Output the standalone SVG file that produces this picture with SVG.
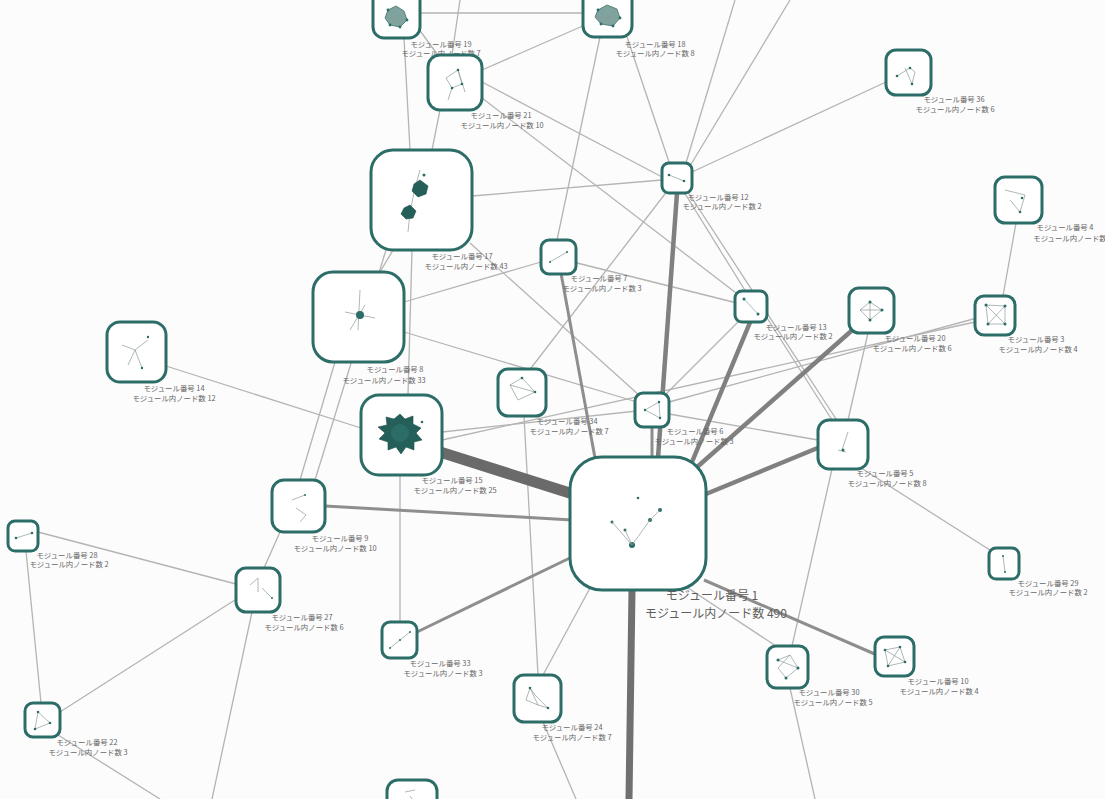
<svg xmlns="http://www.w3.org/2000/svg" width="1105" height="799" viewBox="0 0 1105 799">
<style>
.bg{fill:#fcfcfc}
.n rect.b{fill:#fff;stroke:#2c6d67;stroke-width:3}
.n circle{fill:#2c6d67}
.n path{stroke:#8a9a98;stroke-width:0.7;fill:none}
.n polygon{fill:#245f59;stroke:#1d4f4a;stroke-width:0.6}
.n polygon.m{fill:#7fa39f;stroke:#3f6f6a;stroke-width:0.8}
.l{font-family:"Noto Sans CJK JP","Noto Sans",sans-serif;font-size:7.4px;fill:#666;text-anchor:middle}
.L{font-family:"Noto Sans CJK JP","Noto Sans",sans-serif;font-size:12px;fill:#5f5f5f;text-anchor:middle}
.e1{stroke:#b4b4b4;stroke-width:1.3;fill:none}
.e2{stroke:#8e8e8e;stroke-width:3;fill:none}
.e3{stroke:#808080;stroke-width:4.5;fill:none}
.e4{stroke:#707070;stroke-width:7;fill:none}
.e5{stroke:#6a6a6a;stroke-width:11;fill:none}
</style>
<rect class="bg" x="0" y="0" width="1105" height="799"/>
<g id="edges">
<path class="e1" d="M420 13H583"/>
<path class="e1" d="M404 38L410 150"/>
<path class="e1" d="M418 28L440 58"/>
<path class="e1" d="M460 0L452 55"/>
<path class="e1" d="M585 25L482 70"/>
<path class="e1" d="M627 37L670 165"/>
<path class="e1" d="M600 37L557 240"/>
<path class="e1" d="M440 110L432 150"/>
<path class="e1" d="M482 82L664 178"/>
<path class="e1" d="M482 98L740 296"/>
<path class="e1" d="M472 196L662 180"/>
<path class="e1" d="M692 172L886 82"/>
<path class="e1" d="M686 163L735 0"/>
<path class="e1" d="M690 166L790 0"/>
<path class="e1" d="M684 192L746 292"/>
<path class="e1" d="M688 192L838 422"/>
<path class="e1" d="M668 190L528 372"/>
<path class="e1" d="M404 302L541 262"/>
<path class="e1" d="M470 243L640 396"/>
<path class="e1" d="M573 262L737 303"/>
<path class="e1" d="M412 250L408 395"/>
<path class="e1" d="M393 250L380 272"/>
<path class="e1" d="M404 332L637 402"/>
<path class="e1" d="M166 366L361 428"/>
<path class="e1" d="M442 432L637 411"/>
<path class="e1" d="M400 475L400 622"/>
<path class="e1" d="M524 416L538 675"/>
<path class="e1" d="M669 402L977 318"/>
<path class="e1" d="M669 414L818 440"/>
<path class="e1" d="M767 318L832 420"/>
<path class="e1" d="M665 395L740 320"/>
<path class="e1" d="M868 333L848 420"/>
<path class="e1" d="M1003 296L1016 223"/>
<path class="e1" d="M975 322L442 440"/>
<path class="e1" d="M590 588L543 675"/>
<path class="e1" d="M688 588L782 650"/>
<path class="e1" d="M832 469L792 646"/>
<path class="e1" d="M858 466L993 552"/>
<path class="e1" d="M790 688L815 799"/>
<path class="e1" d="M543 722L576 799"/>
<path class="e1" d="M300 480L335 362"/>
<path class="e1" d="M315 480L386 250"/>
<path class="e1" d="M280 532L264 568"/>
<path class="e1" d="M236 584L38 532"/>
<path class="e1" d="M238 598L60 712"/>
<path class="e1" d="M252 612L212 799"/>
<path class="e1" d="M26 551L41 703"/>
<path class="e1" d="M58 735L160 799"/>
<path class="e2" d="M558 257L595 458"/>
<path class="e2" d="M652 427L652 458"/>
<path class="e2" d="M325 506L572 520"/>
<path class="e2" d="M417 632L574 556"/>
<path class="e2" d="M704 580L877 655"/>
<path class="e3" d="M677 193L658 458"/>
<path class="e3" d="M692 462L751 320"/>
<path class="e3" d="M706 494L820 447"/>
<path class="e3" d="M696 468L866 318"/>
<path class="e4" d="M632 590L629 799"/>
<path class="e5" d="M440 452L576 495"/>
</g>
<g id="n19" class="n"><rect class="b" x="373" y="-12" width="47" height="50" rx="11"/><polygon class="m" points="388,10 396,6 404,11 407,20 400,27 390,25 385,18"/><path d="M388 10L400 27M404 11L390 25M385 18L407 20"/><circle cx="388" cy="10" r="1.4"/><circle cx="407" cy="20" r="1.4"/><circle cx="390" cy="25" r="1.4"/><circle cx="400" cy="27" r="1.4"/><text class="l" x="441" y="47">モジュール番号 19</text><text class="l" x="441" y="56">モジュール内ノード数 7</text></g>
<g id="n18" class="n"><rect class="b" x="583" y="-12" width="49" height="49" rx="11"/><polygon class="m" points="598,10 607,5 617,9 620,18 613,26 601,24 595,17"/><path d="M598 10L613 26M617 9L601 24M595 17L620 18"/><circle cx="598" cy="10" r="1.4"/><circle cx="620" cy="18" r="1.4"/><circle cx="601" cy="24" r="1.4"/><circle cx="613" cy="26" r="1.4"/><text class="l" x="655" y="47">モジュール番号 18</text><text class="l" x="655" y="56">モジュール内ノード数 8</text></g>
<g id="n21" class="n"><rect class="b" x="428" y="55" width="54" height="55" rx="12"/><path d="M446 78L458 70L462 84L452 88L446 78M458 70L465 92M452 88L448 100"/><circle cx="458" cy="70" r="1.3"/><circle cx="452" cy="88" r="1.3"/><circle cx="462" cy="84" r="1.3"/><text class="l" x="501" y="118">モジュール番号 21</text><text class="l" x="502" y="128">モジュール内ノード数 10</text></g>
<g id="n36" class="n"><rect class="b" x="886" y="50" width="45" height="45" rx="10"/><path d="M897 76L910 68L915 72L912 84L905 68"/><circle cx="897" cy="76" r="1.3"/><circle cx="910" cy="68" r="1.3"/><circle cx="912" cy="84" r="1.3"/><text class="l" x="954" y="102">モジュール番号 36</text><text class="l" x="955" y="112">モジュール内ノード数 6</text></g>
<g id="n12" class="n"><rect class="b" x="662" y="163" width="30" height="30" rx="7"/><path d="M669 175L684 181"/><circle cx="669" cy="175" r="1.3"/><circle cx="684" cy="181" r="1.3"/><text class="l" x="718" y="200">モジュール番号 12</text><text class="l" x="722" y="209">モジュール内ノード数 2</text></g>
<g id="n17" class="n"><rect class="b" x="371" y="150" width="101" height="100" rx="22"/><path d="M420 170L415 188L410 212L408 232"/><polygon points="414,184 420,180 428,186 426,194 418,197 412,191"/><polygon points="404,208 410,205 416,211 413,218 406,219 401,214"/><circle cx="424" cy="175" r="1.5"/><text class="l" x="462" y="259">モジュール番号 17</text><text class="l" x="466" y="269">モジュール内ノード数 43</text></g>
<g id="n4" class="n"><rect class="b" x="995" y="177" width="47" height="46" rx="10"/><path d="M1005 190L1025 195L1020 212L1010 200"/><circle cx="1022" cy="198" r="1.3"/><circle cx="1020" cy="212" r="1.3"/><text class="l" x="1065" y="230">モジュール番号 4</text><text class="l" x="1070" y="241">モジュール内ノード数</text></g>
<g id="n7" class="n"><rect class="b" x="541" y="240" width="35" height="34" rx="8"/><path d="M550 262L567 252"/><circle cx="550" cy="262" r="1"/><circle cx="567" cy="252" r="1"/><text class="l" x="599" y="281">モジュール番号 7</text><text class="l" x="602" y="291">モジュール内ノード数 3</text></g>
<g id="n8" class="n"><rect class="b" x="313" y="272" width="91" height="90" rx="20"/><path d="M360 290L358 330M345 312L375 318M350 330L365 305"/><circle cx="360" cy="315" r="4"/><text class="l" x="395" y="372">モジュール番号 8</text><text class="l" x="384" y="383">モジュール内ノード数 33</text></g>
<g id="n13" class="n"><rect class="b" x="735" y="291" width="32" height="31" rx="7"/><path d="M744 299L758 314"/><circle cx="744" cy="299" r="1.5"/><circle cx="758" cy="314" r="1.5"/><text class="l" x="796" y="330">モジュール番号 13</text><text class="l" x="793" y="339">モジュール内ノード数 2</text></g>
<g id="n20" class="n"><rect class="b" x="849" y="288" width="45" height="45" rx="10"/><path d="M860 310L870 302L882 310L870 320L860 310M870 302L870 320M860 310L882 310"/><circle cx="870" cy="302" r="1.5"/><circle cx="882" cy="310" r="1.5"/><circle cx="870" cy="320" r="1.5"/><text class="l" x="915" y="341">モジュール番号 20</text><text class="l" x="912" y="351">モジュール内ノード数 6</text></g>
<g id="n3" class="n"><rect class="b" x="975" y="296" width="40" height="39" rx="9"/><path d="M986 305L1005 306L1005 324L988 324L986 305L1005 324M1005 306L988 324"/><circle cx="986" cy="305" r="1.5"/><circle cx="1005" cy="306" r="1.5"/><circle cx="1005" cy="324" r="1.5"/><circle cx="988" cy="324" r="1.5"/><text class="l" x="1036" y="342">モジュール番号 3</text><text class="l" x="1038" y="352">モジュール内ノード数 4</text></g>
<g id="n14" class="n"><rect class="b" x="107" y="322" width="59" height="60" rx="13"/><path d="M122 345L135 350L148 340M135 350L128 365M135 350L142 368"/><circle cx="148" cy="337" r="1.2"/><circle cx="142" cy="368" r="1.2"/><text class="l" x="174" y="391">モジュール番号 14</text><text class="l" x="174" y="401">モジュール内ノード数 12</text></g>
<g id="n34" class="n"><rect class="b" x="498" y="369" width="48" height="47" rx="10"/><path d="M510 385L522 378L535 392L518 400L510 385L535 392"/><circle cx="522" cy="378" r="1.3"/><circle cx="535" cy="392" r="1.3"/><text class="l" x="567" y="424">モジュール番号 34</text><text class="l" x="569" y="434">モジュール内ノード数 7</text></g>
<g id="n6" class="n"><rect class="b" x="635" y="393" width="34" height="34" rx="8"/><path d="M645 410L659 402L660 418L645 410"/><circle cx="645" cy="410" r="1.2"/><circle cx="659" cy="402" r="1.2"/><circle cx="660" cy="418" r="1.2"/><text class="l" x="695" y="434">モジュール番号 6</text><text class="l" x="694" y="444">モジュール内ノード数 3</text></g>
<g id="n15" class="n"><rect class="b" x="361" y="395" width="81" height="80" rx="18"/><polygon points="400,414 405,419 413,416 413,424 421,428 416,433 422,440 414,442 414,450 406,447 401,454 396,447 388,450 388,442 379,439 385,433 378,427 387,425 386,417 394,419"/><circle cx="400" cy="433" r="9" fill="#1a4a46"/><circle cx="422" cy="422" r="1.3"/><text class="l" x="452" y="483">モジュール番号 15</text><text class="l" x="455" y="493">モジュール内ノード数 25</text></g>
<g id="n5" class="n"><rect class="b" x="818" y="420" width="50" height="49" rx="11"/><path d="M848 432L842 450M838 450L846 452"/><circle cx="843" cy="450" r="1.5"/><text class="l" x="885" y="476">モジュール番号 5</text><text class="l" x="887" y="486">モジュール内ノード数 8</text></g>
<g id="n1" class="n"><rect class="b" x="570" y="457" width="136" height="133" rx="32"/><circle cx="632" cy="545" r="3"/><circle cx="625" cy="530" r="1.5"/><circle cx="650" cy="520" r="2"/><circle cx="660" cy="510" r="2"/><circle cx="612" cy="522" r="1.5"/><circle cx="638" cy="498" r="1.3"/><path d="M612 522L632 545L650 520L660 510M625 530L632 545"/><text class="L" x="712" y="600">モジュール番号 1</text><text class="L" x="716" y="618">モジュール内ノード数 490</text></g>
<g id="n9" class="n"><rect class="b" x="272" y="480" width="53" height="52" rx="12"/><path d="M292 500L305 495M296 508L306 515L300 522"/><circle cx="305" cy="495" r="1"/><text class="l" x="340" y="541">モジュール番号 9</text><text class="l" x="335" y="551">モジュール内ノード数 10</text></g>
<g id="n28" class="n"><rect class="b" x="8" y="521" width="30" height="30" rx="7"/><path d="M16 538L32 533"/><circle cx="16" cy="538" r="1.3"/><circle cx="32" cy="533" r="1.3"/><text class="l" x="67" y="558">モジュール番号 28</text><text class="l" x="69" y="567">モジュール内ノード数 2</text></g>
<g id="n27" class="n"><rect class="b" x="236" y="568" width="44" height="44" rx="10"/><path d="M250 585L258 578L258 592M262 588L272 598"/><circle cx="272" cy="598" r="1"/><text class="l" x="302" y="620">モジュール番号 27</text><text class="l" x="304" y="630">モジュール内ノード数 6</text></g>
<g id="n29" class="n"><rect class="b" x="989" y="548" width="30" height="31" rx="7"/><path d="M1003 556L1005 572"/><circle cx="1003" cy="556" r="1"/><circle cx="1005" cy="572" r="1"/><text class="l" x="1048" y="586">モジュール番号 29</text><text class="l" x="1048" y="595">モジュール内ノード数 2</text></g>
<g id="n33" class="n"><rect class="b" x="382" y="622" width="35" height="36" rx="8"/><path d="M390 648L410 632"/><circle cx="390" cy="648" r="1"/><circle cx="400" cy="640" r="1"/><circle cx="410" cy="632" r="1"/><text class="l" x="440" y="666">モジュール番号 33</text><text class="l" x="443" y="676">モジュール内ノード数 3</text></g>
<g id="n10" class="n"><rect class="b" x="875" y="637" width="39" height="39" rx="9"/><path d="M885 650L900 647L905 662L888 666L885 650L905 662M900 647L888 666"/><circle cx="885" cy="650" r="1.3"/><circle cx="900" cy="647" r="1.3"/><circle cx="905" cy="662" r="1.3"/><circle cx="888" cy="666" r="1.3"/><text class="l" x="938" y="684">モジュール番号 10</text><text class="l" x="939" y="694">モジュール内ノード数 4</text></g>
<g id="n30" class="n"><rect class="b" x="767" y="646" width="41" height="42" rx="9"/><path d="M778 660L790 655L798 668L786 678L778 668L790 655M778 660L798 668" stroke="#7b7fbf"/><circle cx="778" cy="660" r="1.5"/><circle cx="798" cy="668" r="1.5"/><circle cx="786" cy="678" r="1.5"/><text class="l" x="829" y="695">モジュール番号 30</text><text class="l" x="833" y="705">モジュール内ノード数 5</text></g>
<g id="n24" class="n"><rect class="b" x="514" y="675" width="47" height="47" rx="10"/><path d="M530 688L538 705L548 708L535 695L530 688L526 700L538 705"/><circle cx="530" cy="688" r="1.3"/><circle cx="548" cy="708" r="1.3"/><text class="l" x="572" y="730">モジュール番号 24</text><text class="l" x="572" y="740">モジュール内ノード数 7</text></g>
<g id="n22" class="n"><rect class="b" x="25" y="703" width="35" height="34" rx="8"/><path d="M38 712L50 723L35 729L38 712"/><circle cx="38" cy="712" r="1.3"/><circle cx="50" cy="723" r="1.3"/><circle cx="35" cy="729" r="1.3"/><text class="l" x="87" y="745">モジュール番号 22</text><text class="l" x="88" y="755">モジュール内ノード数 3</text></g>
<g id="n_bottom" class="n"><rect class="b" x="387" y="780" width="50" height="45" rx="11"/><path d="M405 792L415 790M410 796L412 799"/></g>
</svg>
